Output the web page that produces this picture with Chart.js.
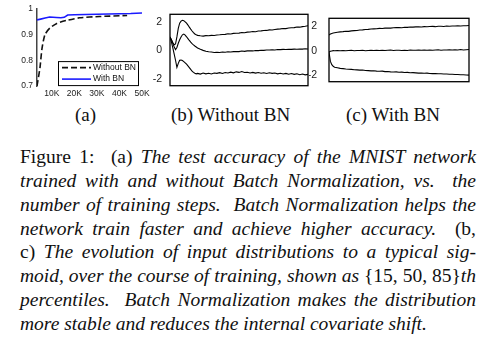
<!DOCTYPE html>
<html>
<head>
<meta charset="utf-8">
<script src="https://cdn.jsdelivr.net/npm/chart.js@4.4.1/dist/chart.umd.min.js"></script>
<style>
  html, body { margin: 0; padding: 0; background: #fff; }
  body { width: 484px; height: 351px; position: relative; overflow: hidden; }
  .panel { position: absolute; top: 0; height: 100px; }
  .cap { position: absolute; top: 103px; font: 19px "Liberation Serif", "Times New Roman", serif; color: #111; white-space: nowrap; line-height: 24px; }
  #para { position: absolute; left: 20px; top: 145px; width: 456px; font: 19.5px "Liberation Serif", "Times New Roman", serif; color: #111; }
  #para div { height: 23.85px; line-height: 23.85px; text-align: justify; text-align-last: justify; white-space: nowrap; }
  #para div.last { text-align-last: left; }
  #para i { font-style: italic; }
</style>
</head>
<body>
<div class="panel" style="left:0;width:160px"><canvas id="chartA"></canvas></div>
<div class="panel" style="left:150px;width:162px"><canvas id="chartB"></canvas></div>
<div class="panel" style="left:309px;width:165px"><canvas id="chartC"></canvas></div>

<div class="cap" style="left:75px">(a)</div>
<div class="cap" style="left:171px">(b) Without BN</div>
<div class="cap" style="left:346px">(c) With BN</div>

<div id="para">
  <div>Figure 1: &nbsp;(a) <i>The test accuracy of the MNIST network</i></div>
  <div><i>trained with and without Batch Normalization, vs. &nbsp;the</i></div>
  <div><i>number of training steps. &nbsp;Batch Normalization helps the</i></div>
  <div><i>network train faster and achieve higher accuracy.</i> &nbsp;(b,</div>
  <div>c) <i>The evolution of input distributions to a typical sig-</i></div>
  <div><i>moid, over the course of training, shown as</i> {15, 50, 85}<i>th</i></div>
  <div><i>percentiles. &nbsp;Batch Normalization makes the distribution</i></div>
  <div class="last"><i>more stable and reduces the internal covariate shift.</i></div>
</div>

<script>
// (a) test accuracy vs training steps
const stepsWith = [3400, 5000, 7000, 9000, 10500, 12000, 14000, 15500, 17000, 20000, 25000, 30000, 35000, 40000, 45000, 50000];
const accWith = [0.958, 0.961, 0.965, 0.969, 0.968, 0.967, 0.966, 0.968, 0.977, 0.978, 0.979, 0.980, 0.981, 0.982, 0.983, 0.985];
const stepsWithout = [3400, 4700, 5600, 6900, 9100, 12200, 16600, 22300, 31100, 43400];
const accWithout = [0.70, 0.77, 0.845, 0.90, 0.926, 0.944, 0.956, 0.966, 0.971, 0.975];
const xTicksA = [10000, 20000, 30000, 40000, 50000];
const yTicksA = [0.7, 0.8, 0.9, 1];

// (b) without BN: 15/50/85th percentiles, steps in thousands
const stepsB = [0, 0.5, 1, 1.5, 2, 2.5, 3, 3.5, 4, 4.5, 5, 5.5, 6, 6.5, 7, 7.5, 8, 8.5, 9, 9.5, 10,
  11, 12, 13, 14, 15, 16, 17, 18, 19, 20, 21, 22, 23, 24, 25, 26, 27, 28, 29, 30,
  31, 32, 33, 34, 35, 36, 37, 38, 39, 40, 41, 42, 43, 44, 45, 46, 47, 48, 49, 50];
const p85B = [0.95, 0.75, 0.55, 0.4, 0.45, 0.95, 1.55, 1.92, 2.07, 2.13, 2.1, 2.02, 1.92, 1.79, 1.64, 1.5, 1.37, 1.25, 1.16, 1.1, 1.06,
  1.03, 1.01, 1.04, 1.03, 1.06, 1.05, 1.09, 1.1, 1.12, 1.13, 1.17, 1.16, 1.2, 1.21, 1.22, 1.26, 1.25, 1.29, 1.3, 1.33,
  1.32, 1.37, 1.38, 1.4, 1.41, 1.45, 1.44, 1.48, 1.5, 1.52, 1.55, 1.54, 1.58, 1.6, 1.61, 1.65, 1.64, 1.68, 1.7, 1.74];
const p50B = [0.95, 0.75, 0.5, 0.25, 0.05, 0.2, 0.5, 0.75, 0.95, 1.1, 1.15, 1.08, 0.96, 0.83, 0.7, 0.58, 0.48, 0.39, 0.31, 0.24, 0.17,
  0.07, 0.0, -0.06, -0.1, -0.12, -0.15, -0.13, -0.15, -0.12, -0.13, -0.1, -0.12, -0.09, -0.08, -0.09, -0.05, -0.07, -0.04, -0.03, -0.04,
  -0.01, -0.02, 0.01, 0.0, 0.03, 0.02, 0.04, 0.03, 0.06, 0.05, 0.07, 0.06, 0.08, 0.07, 0.09, 0.08, 0.1, 0.09, 0.11, 0.1];
const p15B = [0.95, 0.6, 0.2, -0.25, -0.7, -1.2, -0.92, -0.7, -0.68, -0.72, -0.8, -0.88, -0.98, -1.1, -1.22, -1.35, -1.47, -1.56, -1.62, -1.66, -1.63,
  -1.68, -1.6, -1.66, -1.62, -1.67, -1.6, -1.63, -1.58, -1.64, -1.57, -1.6, -1.54, -1.59, -1.52, -1.56, -1.5, -1.57, -1.55, -1.6, -1.56,
  -1.61, -1.57, -1.62, -1.58, -1.64, -1.59, -1.63, -1.6, -1.66, -1.62, -1.67, -1.63, -1.69, -1.64, -1.7, -1.66, -1.72, -1.67, -1.73, -1.7];

// (c) with BN
const stepsC = [0, 0.5, 1, 1.5, 2, 3, 4, 5, 6, 7, 8, 9, 10, 11, 12, 13, 14, 15, 16, 17, 18, 19, 20,
  21, 22, 23, 24, 25, 26, 27, 28, 29, 30, 31, 32, 33, 34, 35, 36, 37, 38, 39, 40,
  41, 42, 43, 44, 45, 46, 47, 48, 49, 50];
const p85C = [1.3, 1.37, 1.42, 1.45, 1.48, 1.52, 1.55, 1.57, 1.6, 1.59, 1.63, 1.65, 1.66, 1.7, 1.71, 1.74, 1.75, 1.78, 1.79, 1.8, 1.83, 1.82, 1.85,
  1.86, 1.85, 1.88, 1.89, 1.9, 1.88, 1.92, 1.91, 1.94, 1.93, 1.95, 1.96, 1.94, 1.97, 1.96, 1.98, 1.99, 1.97, 2.0, 2.0,
  1.99, 2.02, 2.01, 2.03, 2.02, 2.04, 2.03, 2.05, 2.04, 2.06];
const p50C = [-0.1, -0.03, 0.0, 0.02, 0.01, 0.03, 0.02, 0.04, 0.01, 0.03, 0.05, 0.02, 0.04, 0.03, 0.05, 0.02, 0.04, 0.06, 0.03, 0.05, 0.04, 0.06, 0.03,
  0.05, 0.07, 0.04, 0.06, 0.05, 0.03, 0.06, 0.04, 0.07, 0.05, 0.06, 0.08, 0.05, 0.07, 0.06, 0.08, 0.05, 0.07, 0.09, 0.06,
  0.08, 0.07, 0.1, 0.07, 0.09, 0.08, 0.11, 0.08, 0.1, 0.11];
const p15C = [-0.1, -0.85, -1.12, -1.25, -1.32, -1.37, -1.42, -1.44, -1.47, -1.49, -1.5, -1.53, -1.54, -1.56, -1.55, -1.59, -1.6, -1.62, -1.61, -1.64, -1.65, -1.64, -1.68,
  -1.67, -1.7, -1.71, -1.7, -1.73, -1.72, -1.75, -1.74, -1.77, -1.76, -1.78, -1.8, -1.79, -1.81, -1.8, -1.83, -1.84, -1.83, -1.86, -1.85,
  -1.88, -1.87, -1.9, -1.89, -1.92, -1.91, -1.94, -1.93, -1.96, -1.97];
const yTicksBC = [-2, 0, 2];

const sans = "'Liberation Sans', Arial, sans-serif";

function pts(xs, ys) {
  return xs.map((x, i) => ({ x: x, y: ys[i] }));
}

// box around the plot area
const frame = {
  id: 'frame',
  afterDatasetsDraw(chart) {
    const a = chart.chartArea, ctx = chart.ctx;
    ctx.save();
    ctx.strokeStyle = '#000';
    ctx.lineWidth = 1.3;
    ctx.strokeRect(a.left, a.top, a.right - a.left, a.bottom - a.top);
    ctx.restore();
  }
};

// legend inside panel (a)
const boxLegend = {
  id: 'boxLegend',
  afterDraw(chart) {
    const a = chart.chartArea, ctx = chart.ctx;
    const x0 = a.left + 21, y0 = a.top + 52, w = 80, h = 24;
    ctx.save();
    ctx.fillStyle = '#fff';
    ctx.fillRect(x0, y0, w, h);
    ctx.strokeStyle = '#000';
    ctx.lineWidth = 1;
    ctx.strokeRect(x0 + 0.5, y0 + 0.5, w, h);
    ctx.font = '8.5px ' + sans;
    ctx.textBaseline = 'middle';
    chart.data.datasets.forEach((ds, i) => {
      const yy = y0 + 6.5 + i * 11.5;
      ctx.strokeStyle = ds.borderColor;
      ctx.lineWidth = ds.borderWidth;
      ctx.setLineDash(ds.borderDash || []);
      ctx.beginPath();
      ctx.moveTo(x0 + 4, yy);
      ctx.lineTo(x0 + 33, yy);
      ctx.stroke();
      ctx.setLineDash([]);
      ctx.fillStyle = '#111';
      ctx.fillText(ds.label, x0 + 35, yy);
    });
    ctx.restore();
  }
};

Chart.defaults.animation = false;
Chart.defaults.devicePixelRatio = 1;

new Chart(document.getElementById('chartA'), {
  type: 'line',
  data: {
    datasets: [
      { label: 'Without BN', data: pts(stepsWithout, accWithout), borderColor: '#111', borderWidth: 1.6, borderDash: [6, 3], pointRadius: 0, tension: 0.2 },
      { label: 'With BN', data: pts(stepsWith, accWith), borderColor: '#1a1aff', borderWidth: 1.6, pointRadius: 0, tension: 0 }
    ]
  },
  options: {
    responsive: true,
    maintainAspectRatio: false,
    layout: { padding: { top: 5, right: 18, left: 0, bottom: 0 } },
    plugins: { legend: { display: false }, tooltip: { enabled: false } },
    scales: {
      x: {
        type: 'linear', min: 3400, max: 50000,
        grid: { display: false, drawTicks: false }, border: { display: false },
        afterBuildTicks: s => { s.ticks = xTicksA.map(v => ({ value: v })); },
        afterFit: s => { s.height = 14; },
        ticks: { font: { size: 8.5, family: sans }, color: '#222', padding: 3, maxRotation: 0,
                 callback: v => (v / 1000) + 'K' }
      },
      y: {
        min: 0.7, max: 1,
        grid: { display: false, drawTicks: false }, border: { display: true, color: '#444', width: 1.5 },
        afterBuildTicks: s => { s.ticks = yTicksA.map(v => ({ value: v })); },
        afterFit: s => { s.width = 37; },
        ticks: { font: { size: 8.5, family: sans }, color: '#222', padding: 4, callback: v => String(v) }
      }
    }
  },
  plugins: [boxLegend]
});

function percentileChart(id, steps, s15, s50, s85, ymin, ymax, pad, right) {
  const line = (d) => ({ data: pts(steps, d), borderColor: '#000', borderWidth: 1.1, pointRadius: 0, tension: 0 });
  return new Chart(document.getElementById(id), {
    type: 'line',
    data: { datasets: [line(s85), line(s50), line(s15)] },
    options: {
      responsive: true,
      maintainAspectRatio: false,
      layout: { padding: { top: 5, right: right, left: 0, bottom: 3 } },
      plugins: { legend: { display: false }, tooltip: { enabled: false } },
      scales: {
        x: { type: 'linear', min: 0, max: 50, display: false },
        y: {
          min: ymin, max: ymax,
          grid: { display: false, drawTicks: false }, border: { display: false },
          afterBuildTicks: s => { s.ticks = yTicksBC.map(v => ({ value: v })); },
          afterFit: s => { s.width = 20; },
          ticks: { font: { size: 10.5, family: sans }, color: '#222', padding: pad, callback: v => String(v) }
        }
      }
    },
    plugins: [frame]
  });
}

percentileChart('chartB', stepsB, p15B, p50B, p85B, -2.5, 2.55, 8, 4);
percentileChart('chartC', stepsC, p15C, p50C, p85C, -2.5, 2.65, 12, 5);
</script>
</body>
</html>
